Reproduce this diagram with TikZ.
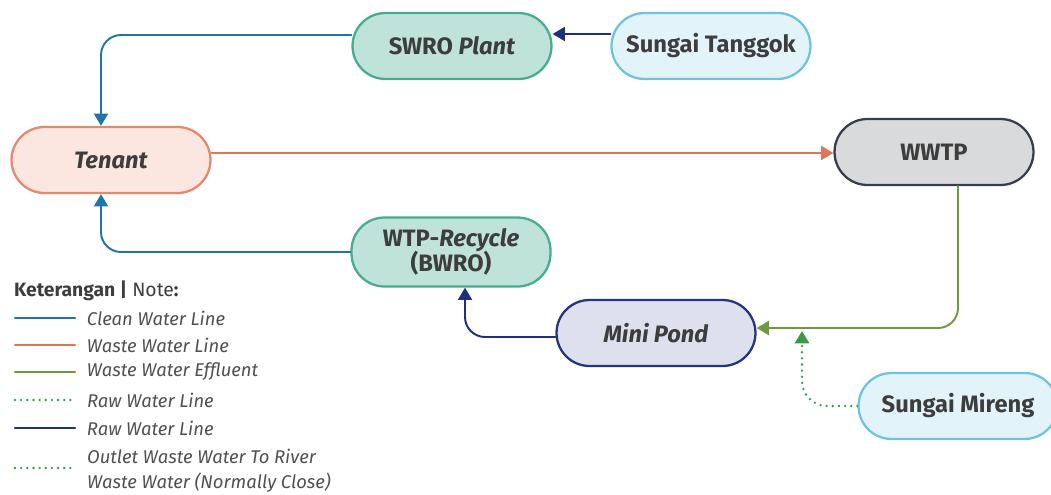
\documentclass[tikz,border=0pt]{standalone}
\usepackage{fontspec}
\setmainfont{Fira Sans}
\usetikzlibrary{arrows.meta}
\definecolor{txtgray}{HTML}{3D3D3D}
\definecolor{notegray}{HTML}{505050}
\definecolor{cleanblue}{HTML}{1F74AC}
\definecolor{wasteorange}{HTML}{D9785A}
\definecolor{effgreen}{HTML}{6B9B3A}
\definecolor{dotgreen}{HTML}{3A9A48}
\definecolor{rawnavy}{HTML}{1F2F7A}
\definecolor{plantfill}{HTML}{BFE3D8}
\definecolor{plantline}{HTML}{45AE90}
\definecolor{riverfill}{HTML}{E2F3FA}
\definecolor{riverline}{HTML}{6DC4E2}
\definecolor{tenantfill}{HTML}{FCE7E0}
\definecolor{tenantline}{HTML}{E38A6D}
\definecolor{wwtpfill}{HTML}{D9DADC}
\definecolor{wwtpline}{HTML}{373F4D}
\definecolor{pondfill}{HTML}{DFE0EE}
\definecolor{pondline}{HTML}{24357F}
\tikzset{
  box/.style={draw, line width=1.3pt, rounded corners=0.66cm, minimum width=3.98cm,
    minimum height=1.32cm, align=center, inner sep=2pt, text=txtgray,
    font=\bfseries\fontsize{13.5}{16}\selectfont},
  plant/.style={box, fill=plantfill, draw=plantline},
  river/.style={box, fill=riverfill, draw=riverline},
  flow/.style={line width=1.1pt, rounded corners=0.4cm},
  clean/.style={flow, draw=cleanblue, -{Triangle[width=8pt,length=7pt]}},
  waste/.style={flow, draw=wasteorange, -{Triangle[width=8pt,length=7pt]}},
  effluent/.style={flow, draw=effgreen, -{Triangle[width=8pt,length=7pt]}},
  raw/.style={flow, draw=rawnavy, -{Triangle[width=8pt,length=7pt]}},
  dots/.style={draw=dotgreen, line width=1.5pt, line cap=round, dash pattern=on 0pt off 3.5pt},
  outlet/.style={flow, dots, rounded corners=0.5cm, -{Triangle[width=8pt,length=7pt]}},
  note/.style={anchor=west, text=notegray, font=\itshape\fontsize{10.5}{12}\selectfont}
}
\begin{document}
\begin{tikzpicture}[x=0.02cm, y=-0.02cm, line join=round, line cap=round]
\useasboundingbox (0,0) rectangle (1051,494);
% stations
\node[plant] (swro) at (452,46) {SWRO \textit{Plant}};
\node[river] (tanggok) at (711,46) {Sungai Tanggok};
\node[box, fill=tenantfill, draw=tenantline] (tenant) at (111,160) {\textit{Tenant}};
\node[box, fill=wwtpfill, draw=wwtpline] (wwtp) at (934,152) {WWTP};
\node[plant, minimum height=1.38cm] (wtp) at (451,252) {WTP-\textit{Recycle}\\[-2pt](BWRO)};
\node[box, fill=pondfill, draw=pondline] (pond) at (656,333) {\textit{Mini Pond}};
\node[river] (mireng) at (958,406) {Sungai Mireng};
\coordinate (inlet) at (802,331);
% flows
\draw[raw] ([yshift=0.24cm]tanggok.west) -- ([yshift=0.24cm]swro.east);
\draw[clean] ([yshift=0.22cm]swro.west) -| ([xshift=-0.2cm]tenant.north);
\draw[waste] ([yshift=0.14cm]tenant.east) -- ([yshift=-0.02cm]wwtp.west);
\draw[clean] (wtp.west) -| ([xshift=-0.2cm]tenant.south);
\draw[raw] ([yshift=-0.08cm]pond.west) -| ([xshift=0.28cm]wtp.south);
\draw[effluent] ([xshift=0.48cm]wwtp.south) |- ([yshift=0.1cm]pond.east);
\draw[outlet] (mireng.west) -| (inlet);
% legend
\node[anchor=west, text=txtgray, font=\fontsize{11}{13}\selectfont] (keterangan) at (8,291)
  {\textbf{Keterangan |} Note\textbf{:}};
\foreach \sty/\yy/\lbl in {cleanblue/318/Clean Water Line, wasteorange/345/Waste Water Line,
    effgreen/372/Waste Water Effluent, rawnavy/428/Raw Water Line}
  \draw[line width=1.3pt, draw=\sty] (15,\yy) -- (75,\yy) node[note, xshift=0.1cm] {\lbl};
\draw[dots] (15,400) -- (75,400) node[note, xshift=0.1cm] {Raw Water Line};
\draw[dots] (15,468) -- (75,468);
\node[note] (outl) at (81,456) {Outlet Waste Water To River};
\node[note] (normc) at (81,483) {Waste Water (Normally Close)};
\end{tikzpicture}
\end{document}
